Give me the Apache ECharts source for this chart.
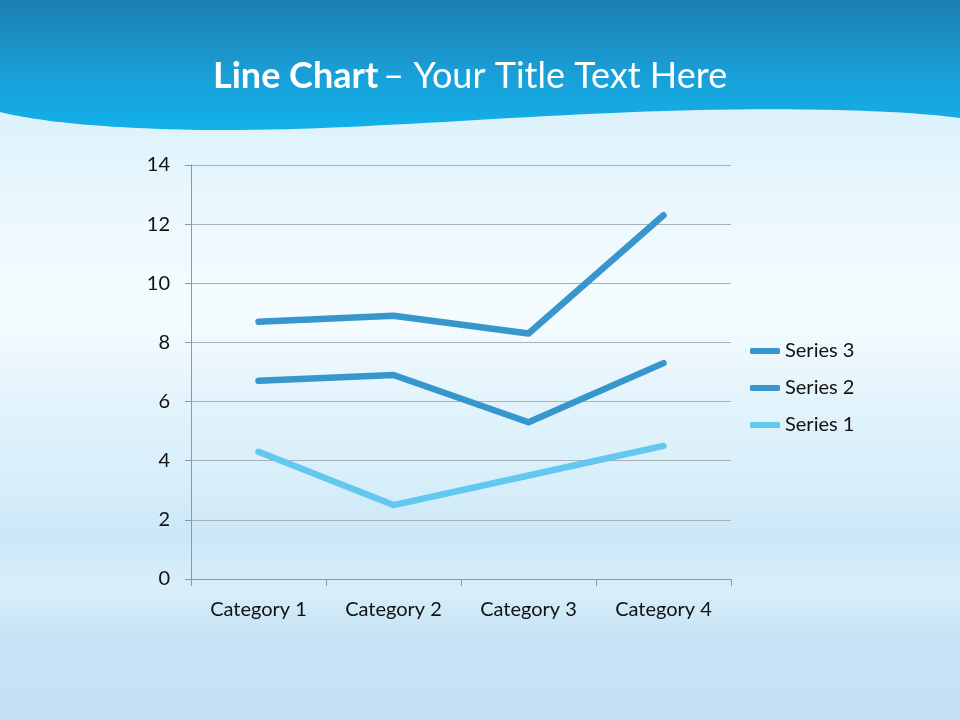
<html>
<head>
    <meta charset="utf-8">
    <script src="https://cdn.jsdelivr.net/npm/echarts@6/dist/echarts.min.js"></script>
    <title>Line Chart</title>
    <style>
        html, body { margin: 0; padding: 0; width: 100%; height: 100%; }
    </style>
</head>
<body>
    <div id="main" style="width: 960px; height: 720px;"></div>
    <script>
        // data (stacked lines)
        const categories = ['Category 1', 'Category 2', 'Category 3', 'Category 4'];
        const series1 = [4.3, 2.5, 3.5, 4.5];
        const series2 = [2.4, 4.4, 1.8, 2.8];
        const series3 = [2, 2, 3, 5];
        const yTicks = { min: 0, max: 14, interval: 2 };

        const font = 'Lato, "Open Sans", sans-serif';
        const darkBlue = '#3796cc';
        const lightBlue = '#62c8f0';

        // header wave: sample a few cubic curves into a polygon
        const waveCurves = [
            [[960, 118], [900, 110], [800, 108], [700, 110]],
            [[700, 110], [520, 114], [360, 131], [210, 130]],
            [[210, 130], [110, 129], [40, 122], [0, 112]]
        ];
        const wavePoints = [[0, 0], [960, 0]];
        waveCurves.forEach(c => {
            for (let i = 0; i <= 30; i++) {
                const t = i / 30, u = 1 - t;
                wavePoints.push([
                    u * u * u * c[0][0] + 3 * u * u * t * c[1][0] + 3 * u * t * t * c[2][0] + t * t * t * c[3][0],
                    u * u * u * c[0][1] + 3 * u * u * t * c[1][1] + 3 * u * t * t * c[2][1] + t * t * t * c[3][1]
                ]);
            }
        });

        const lineSeries = (name, values, color) => ({
            name: name,
            type: 'line',
            stack: 'total',
            data: values,
            symbol: 'none',
            lineStyle: { width: 6.5, color: color, cap: 'round', join: 'round' },
            itemStyle: { color: color },
            emphasis: { disabled: true }
        });

        var myChart = echarts.init(document.getElementById('main'));
        myChart.setOption({
            animation: false,
            graphic: [
                {
                    type: 'rect', z: -100,
                    shape: { x: 0, y: 0, width: 960, height: 720 },
                    style: {
                        fill: new echarts.graphic.LinearGradient(0, 0, 0, 1, [
                            { offset: 0.15, color: '#dcf1fb' },
                            { offset: 0.32, color: '#eef9fe' },
                            { offset: 0.44, color: '#f5fcff' },
                            { offset: 0.56, color: '#e2f3fb' },
                            { offset: 0.68, color: '#d6eefa' },
                            { offset: 0.74, color: '#cce7f7' },
                            { offset: 0.82, color: '#d8effa' },
                            { offset: 0.88, color: '#c8e3f4' },
                            { offset: 1, color: '#c4e0f4' }
                        ])
                    }
                },
                {
                    type: 'polygon', z: -90,
                    shape: { points: wavePoints },
                    style: {
                        fill: new echarts.graphic.LinearGradient(0, 0, 0, 1, [
                            { offset: 0, color: '#1b7eae' },
                            { offset: 0.55, color: '#1a9ed6' },
                            { offset: 1, color: '#12b0ea' }
                        ])
                    }
                }
            ],
            title: {
                text: '{b|Line Chart} {r|– Your Title Text Here}',
                left: 208,
                top: 53,
                textStyle: {
                    rich: {
                        b: { fontFamily: font, fontSize: 36, fontWeight: 'bold', color: '#ffffff' },
                        r: { fontFamily: font, fontSize: 36, fontWeight: 'normal', color: '#ffffff' }
                    }
                }
            },
            legend: {
                orient: 'vertical',
                left: 750,
                top: 341,
                padding: 0,
                itemGap: 17,
                itemWidth: 30,
                itemHeight: 6,
                icon: 'roundRect',
                data: ['Series 3', 'Series 2', 'Series 1'],
                textStyle: { fontFamily: font, fontSize: 20, color: '#111111' }
            },
            grid: { left: 191, right: 229, top: 165, bottom: 141 },
            xAxis: {
                type: 'category',
                data: categories,
                boundaryGap: true,
                axisLine: { lineStyle: { color: '#8c98a4', width: 1 } },
                axisTick: { show: true, length: 7, lineStyle: { color: '#8c98a4' } },
                axisLabel: { fontFamily: font, fontSize: 20, color: '#111111', margin: 21 },
                splitLine: { show: false }
            },
            yAxis: {
                type: 'value',
                min: yTicks.min,
                max: yTicks.max,
                interval: yTicks.interval,
                axisLine: { show: true, lineStyle: { color: '#8c98a4', width: 1 } },
                axisTick: { show: true, length: 6, lineStyle: { color: '#8c98a4' } },
                axisLabel: { fontFamily: font, fontSize: 20, color: '#111111', margin: 21 },
                splitLine: { show: true, lineStyle: { color: '#a8b0b8', width: 1 } }
            },
            series: [
                lineSeries('Series 1', series1, lightBlue),
                lineSeries('Series 2', series2, darkBlue),
                lineSeries('Series 3', series3, darkBlue)
            ]
        });
    </script>
</body>
</html>
